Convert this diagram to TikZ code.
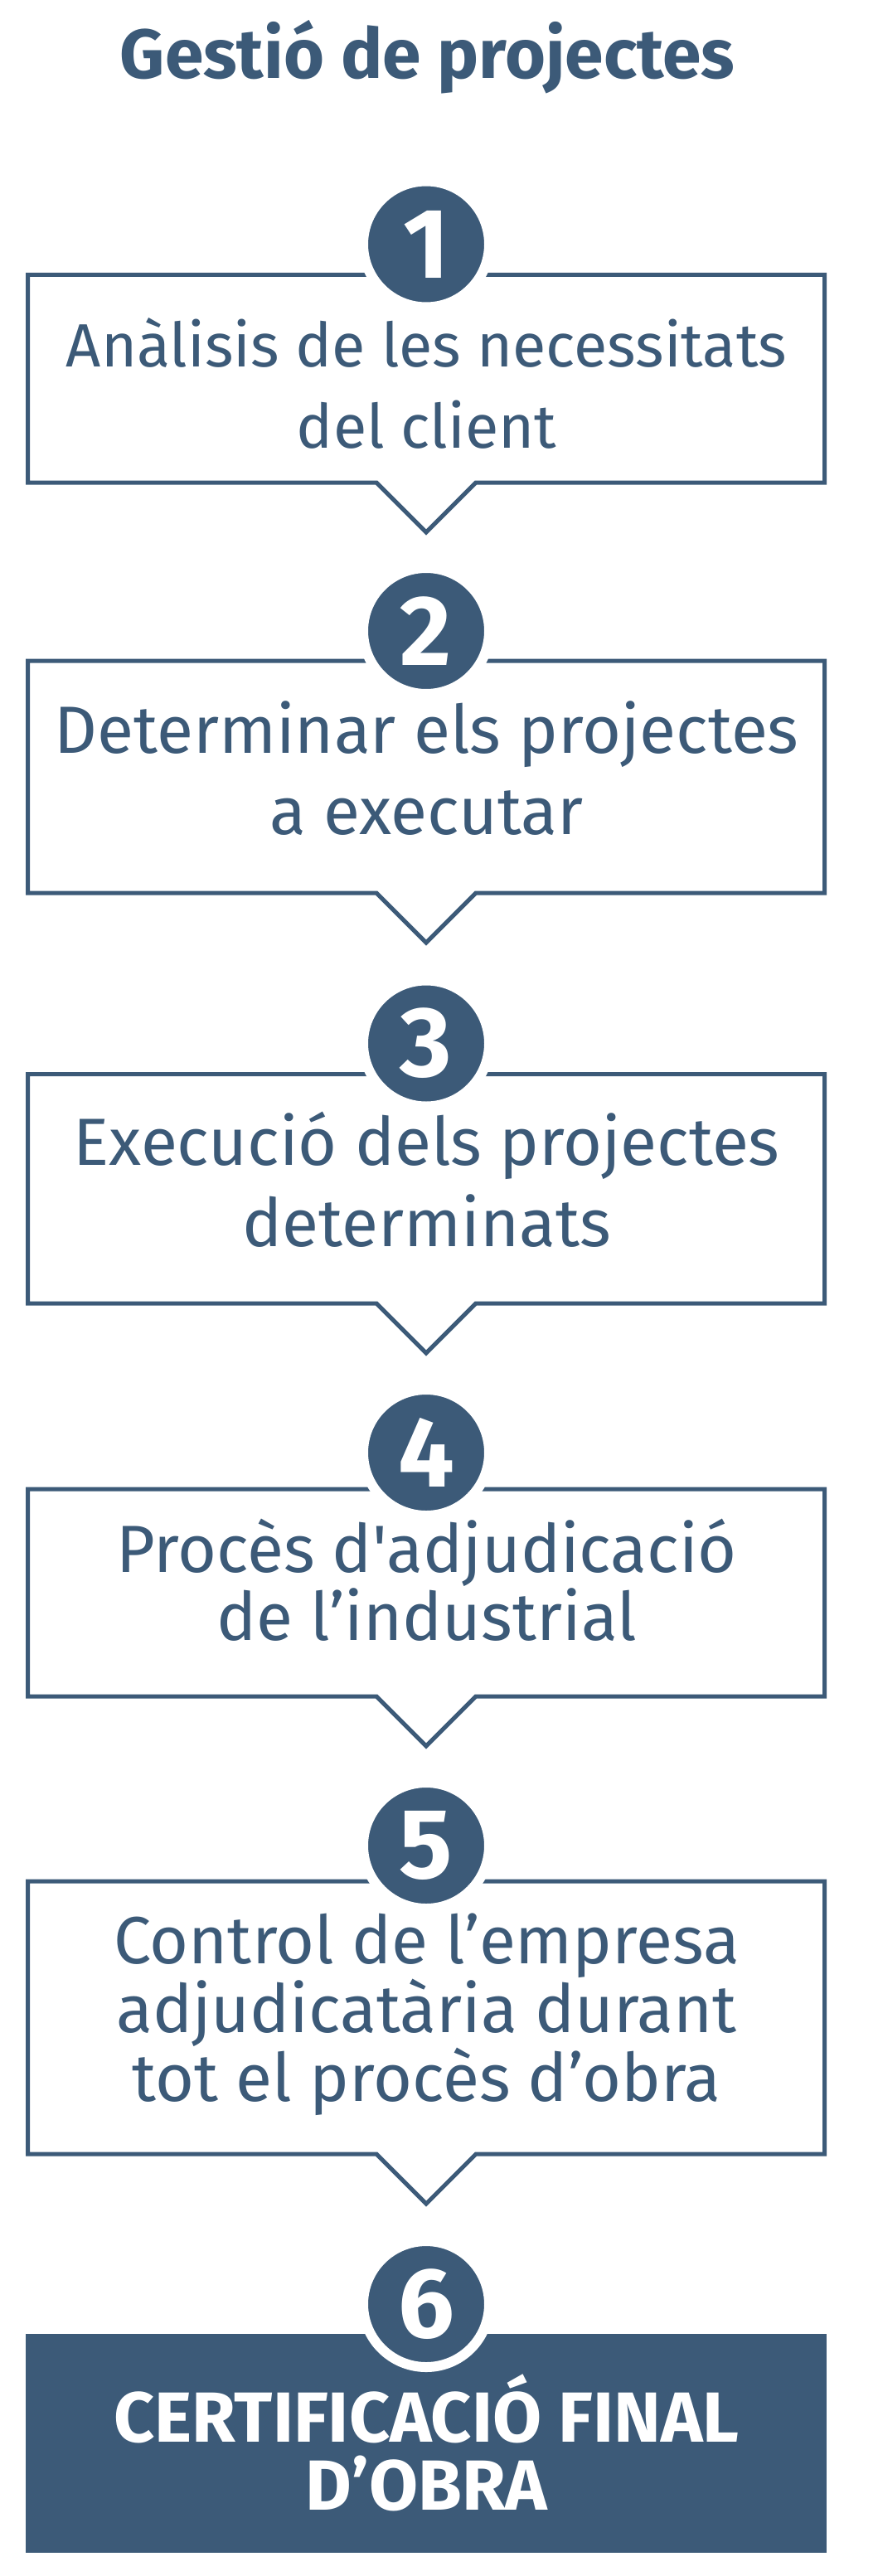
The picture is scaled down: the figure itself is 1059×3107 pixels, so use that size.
\documentclass[tikz,border=0pt]{standalone}
\usepackage{fontspec}
\setmainfont{Fira Sans}
\usetikzlibrary{positioning}
\usetikzlibrary{calc}
\definecolor{slate}{HTML}{3C5A78}

\begin{document}
\begin{tikzpicture}[x=0.75pt, y=-0.75pt,
		stepbox/.style = {
			rectangle, minimum width=961*0.75pt, inner sep=0pt, outer sep=0pt
		},
		steptext/.style = {
			anchor=base, align=center, text=slate, inner sep=0pt,
			font=\fontsize{60.4}{73.5}\selectfont
		},
		tight/.style = {
			font=\fontsize{60.4}{61}\selectfont
		},
		num/.style = {
			circle, fill=slate, draw=white, line width=9pt, minimum size=114pt,
			inner sep=0pt, text=white, font=\bfseries\fontsize{90}{90}\selectfont
		},
		outline/.style = {
			draw=slate, line width=3.75pt
		}]
		\useasboundingbox (0,0) rectangle (1059,3107);
		
		\node at (515.5,94.5) (title) [anchor=base, text=slate, font=\bfseries\fontsize{63}{63}\selectfont] {Gestió de projectes};
		
		\node at (514,456.75) (b1) [stepbox, minimum height=250.5*0.75pt] {};
		\node at (514,937) (b2) [stepbox, minimum height=280*0.75pt] {};
		\node at (514,1433.75) (b3) [stepbox, minimum height=276.5*0.75pt] {};
		\node at (514,1921) (b4) [stepbox, minimum height=250*0.75pt] {};
		\node at (514,2433.5) (b5) [stepbox, minimum height=329*0.75pt] {};
		\node at (514,2946.5) (b6) [stepbox, minimum height=259*0.75pt, fill=slate, draw=slate, line width=3.75pt] {};
		
		\draw [outline] (b1.north west) -- (b1.north east) -- (b1.south east) -- ($(b1.south)+(60,0)$) -- ++(-60,60) -- ++(-60,-60) -- (b1.south west) -- cycle;
		\draw [outline] (b2.north west) -- (b2.north east) -- (b2.south east) -- ($(b2.south)+(60,0)$) -- ++(-60,60) -- ++(-60,-60) -- (b2.south west) -- cycle;
		\draw [outline] (b3.north west) -- (b3.north east) -- (b3.south east) -- ($(b3.south)+(60,0)$) -- ++(-60,60) -- ++(-60,-60) -- (b3.south west) -- cycle;
		\draw [outline] (b4.north west) -- (b4.north east) -- (b4.south east) -- ($(b4.south)+(60,0)$) -- ++(-60,60) -- ++(-60,-60) -- (b4.south west) -- cycle;
		\draw [outline] (b5.north west) -- (b5.north east) -- (b5.south east) -- ($(b5.south)+(60,0)$) -- ++(-60,60) -- ++(-60,-60) -- (b5.south west) -- cycle;
		
		\node at (514,294.5) (c1) [num] {1};
		\node at (514,761) (c2) [num] {2};
		\node at (514,1258.5) (c3) [num] {3};
		\node at (514,1752) (c4) [num] {4};
		\node at (514,2226) (c5) [num] {5};
		\node at (514,2779) (c6) [num] {6};
		
		\node at (514.5,540) (t1) [steptext, font=\fontsize{55.3}{73.5}\selectfont] {Anàlisis de les necessitats\\del client};
		\node at (514.5,1006) (t2) [steptext] {Determinar els projectes\\a executar};
		\node at (514.5,1503.5) (t3) [steptext] {Execució dels projectes\\determinats};
		\node at (514.5,1978) (t4) [steptext, tight] {Procès d\textquotesingle adjudicació\\de l’industrial};
		\node at (514.5,2534.5) (t5) [steptext, tight] {Control de l’empresa\\adjudicatària durant\\tot el procès d’obra};
		\node at (514.5,3027) (t6) [steptext, text=white, font=\bfseries\fontsize{64.2}{61}\selectfont] {CERTIFICACIÓ FINAL\\D’OBRA};
	\end{tikzpicture}
\end{document}
